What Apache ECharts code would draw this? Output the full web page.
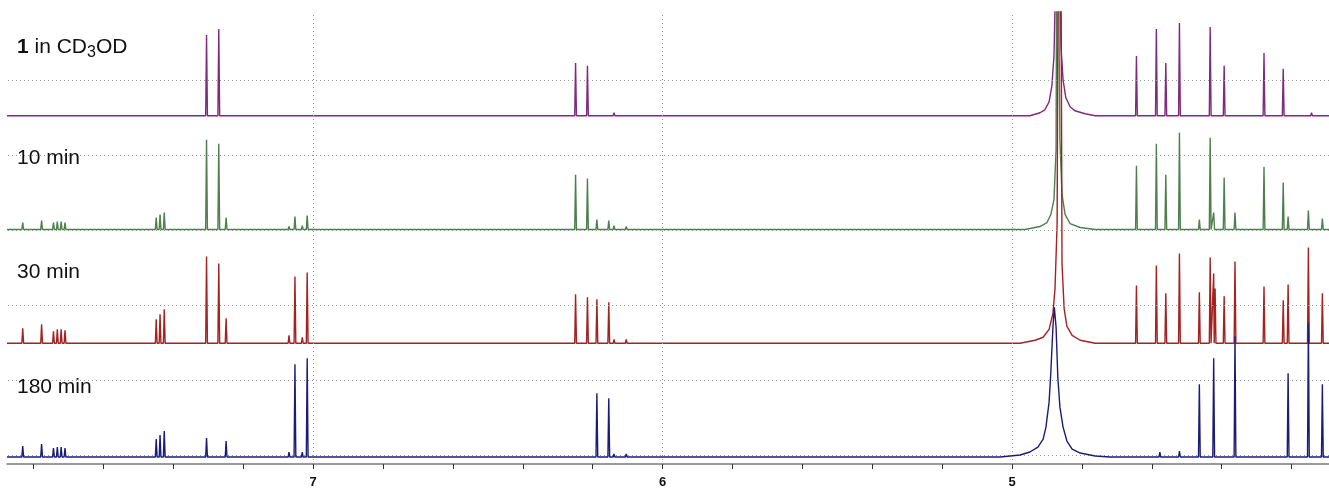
<!DOCTYPE html>
<html>
<head>
<meta charset="utf-8">
<script src="https://cdn.jsdelivr.net/npm/echarts@6/dist/echarts.min.js"></script>
<style>
  html, body { margin: 0; padding: 0; background: #fff; }
  #chart { width: 1329px; height: 489px; }
</style>
</head>
<body>
<div id="chart"></div>
<script>
// ppm range shown (axis is reversed, high ppm on the left)
const ppmMax = 7.876;
const ppmMin = 4.093;

// tick positions and labelled ticks
const tickValues = [7.8, 7.6, 7.4, 7.2, 7.0, 6.8, 6.6, 6.4, 6.2, 6.0, 5.8, 5.6, 5.4, 5.2, 5.0, 4.8, 4.6, 4.4, 4.2];
const labelValues = [7, 6, 5];

// dotted guide lines (intensity units) and ppm
const gridRows = [8.5, 83.8, 159.1, 234.4, 309.7, 385];
const gridCols = [7, 6, 5];

// trace names and vertical offsets of each baseline
const traceNames = ['1 in CD3OD', '10 min', '30 min', '180 min'];
const traceOffsets = [349, 235, 121, 7];

// sharp lines: [ppm, height]
const peaks0 = [
  [7.587, 1], [7.552, 1], [7.305, 81], [7.270, 87], [7.069, 2], [7.031, 2],
  [6.249, 53], [6.215, 50], [6.139, 3], [6.104, 2], [5.000, 2],
  [4.644, 60], [4.587, 87], [4.560, 53], [4.521, 93], [4.433, 89], [4.393, 50],
  [4.279, 63], [4.224, 47], [4.143, 3], [4.107, 2]
];
const peaks10 = [
  [7.831, 7], [7.777, 9], [7.743, 7], [7.732, 8], [7.721, 8], [7.710, 7],
  [7.449, 12], [7.438, 15], [7.426, 17], [7.305, 90], [7.270, 86], [7.249, 12],
  [7.069, 3], [7.052, 13], [7.031, 4], [7.017, 14],
  [6.249, 55], [6.215, 51], [6.188, 10], [6.154, 9], [6.139, 4], [6.104, 3], [5.615, 1],
  [4.644, 64], [4.587, 86], [4.560, 55], [4.521, 97], [4.464, 10], [4.433, 92], [4.423, 17],
  [4.393, 52], [4.362, 17], [4.279, 63], [4.224, 47], [4.210, 13], [4.152, 19], [4.112, 11]
];
const peaks30 = [
  [7.831, 15], [7.777, 19], [7.743, 12], [7.732, 14], [7.721, 14], [7.710, 13],
  [7.449, 24], [7.438, 29], [7.426, 34], [7.305, 87], [7.270, 80], [7.249, 25],
  [7.069, 8], [7.052, 67], [7.031, 6], [7.017, 71],
  [6.249, 49], [6.215, 46], [6.188, 44], [6.154, 41], [6.139, 4], [6.104, 4],
  [5.847, 1], [5.615, 1], [5.143, 1],
  [4.644, 58], [4.587, 78], [4.560, 50], [4.521, 90], [4.464, 51], [4.433, 86], [4.423, 70],
  [4.419, 55], [4.393, 47], [4.362, 82], [4.279, 57], [4.224, 43], [4.210, 59], [4.152, 96], [4.112, 50]
];
const peaks180 = [
  [7.831, 11], [7.777, 13], [7.743, 9], [7.732, 10], [7.721, 10], [7.710, 9],
  [7.449, 18], [7.438, 22], [7.426, 26], [7.305, 19], [7.249, 16],
  [7.069, 5], [7.052, 93], [7.031, 5], [7.017, 99],
  [6.785, 1], [6.731, 1], [6.456, 1], [6.188, 64], [6.154, 59], [6.139, 3], [6.104, 3],
  [4.577, 5], [4.521, 6], [4.464, 73], [4.423, 99], [4.362, 121], [4.253, 2],
  [4.210, 84], [4.152, 134], [4.112, 73]
];

// broad solvent (HDO) signal, traced point by point: [ppm, height]
const broad0 = [
  [4.949, 0], [4.920, 3], [4.906, 6], [4.894, 14], [4.886, 30], [4.880, 60], [4.877, 110],
  [4.874, 420], [4.869, 420], [4.863, 130], [4.860, 70], [4.854, 36], [4.846, 18],
  [4.834, 9], [4.820, 5], [4.791, 2], [4.762, 0]
];
const broad10 = [
  [4.963, 0], [4.920, 3], [4.900, 7], [4.889, 15], [4.880, 30], [4.874, 80],
  [4.871, 420], [4.866, 420], [4.863, 90], [4.857, 35], [4.848, 15], [4.834, 6],
  [4.805, 2], [4.762, 0]
];
const broad30 = [
  [4.977, 0], [4.934, 3], [4.911, 6], [4.894, 14], [4.883, 30], [4.877, 55], [4.871, 120],
  [4.867, 500], [4.861, 500], [4.857, 80], [4.851, 35], [4.843, 17], [4.828, 8],
  [4.805, 3], [4.762, 0]
];
const broad180 = [
  [5.034, 0], [4.977, 2], [4.949, 5], [4.926, 10], [4.911, 18], [4.903, 30], [4.894, 55],
  [4.889, 85], [4.883, 130], [4.879, 150], [4.874, 130], [4.869, 80], [4.863, 50],
  [4.854, 30], [4.843, 16], [4.828, 8], [4.805, 4], [4.762, 1], [4.720, 0]
];

const colors = ['#7e2a7e', '#4f7f4f', '#a32222', '#1c1c78'];
const HW = 0.0025; // half width of a sharp line, ppm

function buildTrace(peaks, broad, offset) {
  const pts = [[ppmMax, 0], [ppmMin, 0]];
  peaks.forEach(([p, h]) => pts.push([p + HW, 0], [p, h], [p - HW, 0]));
  broad.forEach(pt => pts.push(pt));
  pts.sort((a, b) => b[0] - a[0]);
  return pts.map(([p, h]) => [p, h + offset]);
}

const traces = [
  buildTrace(peaks0, broad0, traceOffsets[0]),
  buildTrace(peaks10, broad10, traceOffsets[1]),
  buildTrace(peaks30, broad30, traceOffsets[2]),
  buildTrace(peaks180, broad180, traceOffsets[3])
];

// label layout (text widths measured so the subscript sits right)
const font = '"Liberation Sans", Arial, sans-serif';
const ctx = document.createElement('canvas').getContext('2d');
ctx.font = 'bold 21px ' + font;
const w1 = ctx.measureText('1').width;
ctx.font = '21px ' + font;
const w2 = ctx.measureText(' in CD').width;
ctx.font = '16px ' + font;
const w3 = ctx.measureText('3').width;

function txt(s, x, y, size, weight) {
  return {
    type: 'text', x: x, y: y, silent: true, z: 10,
    style: { text: s, fontSize: size, fontWeight: weight || 'normal', fontFamily: font,
      fill: '#111', align: 'left', verticalAlign: 'middle' }
  };
}

const labelX = 17;
const graphics = [
  txt('1', labelX, 47.7, 21, 'bold'),
  txt(' in CD', labelX + w1, 47.7, 21),
  txt('3', labelX + w1 + w2, 52.8, 16),
  txt('OD', labelX + w1 + w2 + w3, 47.7, 21),
  txt(traceNames[1], labelX, 158.4, 21),
  txt(traceNames[2], labelX, 272, 21),
  txt(traceNames[3], labelX, 387, 21)
];

const chart = echarts.init(document.getElementById('chart'));

const series = traces.map((d, i) => ({
  name: traceNames[i],
  type: 'line',
  data: d,
  symbol: 'none',
  clip: true,
  z: 2 + i,
  lineStyle: { color: colors[i], width: 1.4 },
  silent: true
}));

series.unshift({
  type: 'line',
  data: [],
  z: 1,
  silent: true,
  markLine: {
    silent: true,
    symbol: 'none',
    label: { show: false },
    animation: false,
    lineStyle: { color: '#9a9a9a', width: 1, type: [1, 3] },
    data: gridRows.map(v => ({ yAxis: v })).concat(gridCols.map(v => ({ xAxis: v })))
  }
});

chart.setOption({
  animation: false,
  grid: { left: 7, right: 0, top: 12, bottom: 24 },
  xAxis: {
    type: 'value',
    inverse: true,
    min: ppmMin,
    max: ppmMax,
    axisLine: { onZero: false, lineStyle: { color: '#7a7a7a', width: 1.5 } },
    axisTick: { length: 5, lineStyle: { color: '#333', width: 1 }, customValues: tickValues },
    axisLabel: {
      customValues: labelValues, margin: 12,
      fontSize: 13, fontWeight: 'bold', color: '#111', fontFamily: font,
      formatter: v => String(v)
    },
    splitLine: { show: false }
  },
  yAxis: { type: 'value', min: 0, max: 453, show: false, splitLine: { show: false } },
  graphic: graphics,
  series: series
});
</script>
</body>
</html>
